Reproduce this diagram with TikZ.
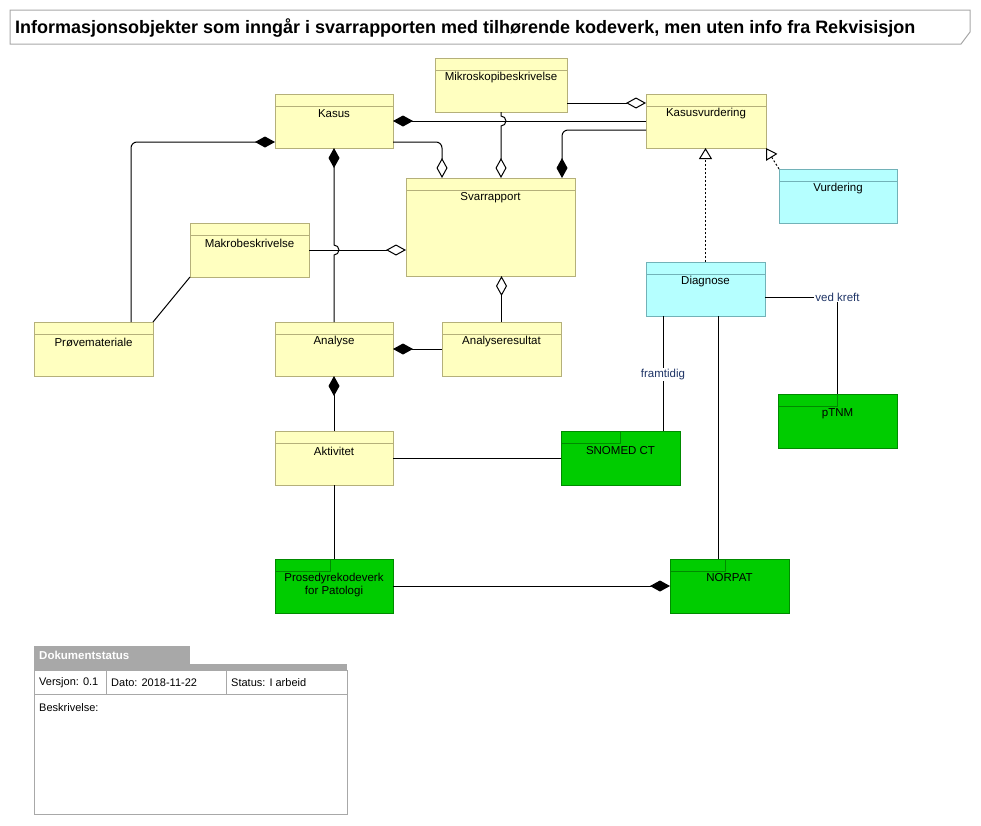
\documentclass[tikz,border=0pt]{standalone}
\usepackage{fontspec}
\setmainfont{Liberation Sans}
\usetikzlibrary{arrows.meta,calc,fit}
\definecolor{yfill}{HTML}{FFFFC0}
\definecolor{ydraw}{HTML}{B5B07A}
\definecolor{cfill}{HTML}{B5FFFF}
\definecolor{cdraw}{HTML}{72B2B8}
\definecolor{gfill}{HTML}{00CC00}
\definecolor{gdraw}{HTML}{008A00}
\definecolor{lblc}{HTML}{1E3466}
\definecolor{grc}{HTML}{A8A8A8}
\tikzset{
  boxbase/.style={line width=1pt, inner sep=0pt, outer sep=0pt},
  ycls/.style={boxbase, draw=ydraw, fill=yfill},
  ycls line/.style={line width=1pt, draw=ydraw},
  ccls/.style={boxbase, draw=cdraw, fill=cfill},
  ccls line/.style={line width=1pt, draw=cdraw},
  gpkg/.style={boxbase, draw=gdraw, fill=gfill},
  nm/.style={font=\fontsize{11.5}{13}\selectfont, align=center, text=black},
  conn/.style={line width=1pt, draw=black},
  fd/.tip={Diamond[length=20pt, width=11pt, fill=black]},
  od/.tip={Diamond[open, length=20pt, width=11pt, fill=white]},
  rl/.style={line width=1pt, dash pattern=on 2pt off 2pt},
  ot/.tip={Triangle[open, length=11pt, width=13pt, fill=white]},
  lbl/.style={fill=white, inner sep=1pt, text=lblc, font=\fontsize{11.5}{13}\selectfont},
  docs/.style={font=\fontsize{11}{13}\selectfont, anchor=west, inner sep=0pt},
}
\newcommand\clsbox[7]{%
  \node[#2, fit={(#3,#4)(#5,#6)}] (#1) {};
  \draw[#2 line] ($(#1.north west)+(0,12)$) -- ($(#1.north east)+(0,12)$);
  \node[nm, anchor=center] at ($(#1.north)+(0,20)$) {#7};
}
\newcommand\pkgbox[8]{%
  \node[gpkg, fit={(#2,#3)(#4,#5)}] (#1) {};
  \draw[line width=1pt, draw=gdraw] ($(#1.north west)+(#6,0)$) |- ($(#1.north west)+(0,12)$);
  \node[nm, anchor=north] at ($(#1.north)+(0,#7)$) {#8};
}
\begin{document}
\begin{tikzpicture}[x=1pt,y=-1pt]
\useasboundingbox (0,0) rectangle (981,825);
% title
\draw[line width=1pt, draw=grc, fill=white] (10,10) -- (970,10) -- (970,32) -- (961,44) -- (10,44) -- cycle;
\node[anchor=west, inner sep=0pt] (title) at (15,28) {\resizebox{900pt}{!}{\bfseries Informasjonsobjekter som inngår i svarrapporten med tilhørende kodeverk, men uten info fra Rekvisisjon}};

% classes
\clsbox{kasus}{ycls}{275}{94}{393}{148}{Kasus}
\clsbox{mikro}{ycls}{435}{58}{567}{112}{Mikroskopibeskrivelse}
\clsbox{kasusv}{ycls}{646}{94}{766}{148}{Kasusvurdering}
\clsbox{svar}{ycls}{406}{178}{575}{276}{Svarrapport}
\clsbox{makro}{ycls}{190}{223}{309}{277}{Makrobeskrivelse}
\clsbox{prove}{ycls}{34}{322}{153}{376}{Prøvemateriale}
\clsbox{analyse}{ycls}{275}{322}{393}{376}{Analyse}
\clsbox{ares}{ycls}{442}{322}{561}{376}{Analyseresultat}
\clsbox{akt}{ycls}{275}{431}{393}{485}{Aktivitet}
\clsbox{vurd}{ccls}{779}{169}{897}{223}{Vurdering}
\clsbox{diag}{ccls}{646}{262}{765}{316}{Diagnose}

% packages
\pkgbox{snomed}{561}{431}{680}{485}{59}{12}{SNOMED CT}
\pkgbox{ptnm}{778}{394}{897}{448}{59}{11}{pTNM}
\pkgbox{prosed}{275}{559}{393}{613}{55}{11}{Prosedyrekodeverk\\for Patologi}
\pkgbox{norpat}{670}{559}{789}{613}{55}{11}{NORPAT}

% helper coordinates
\coordinate (mk1) at ($(mikro.south east)+(0,-9)$);
\coordinate (hop1) at (mikro.south |- kasus.east);
\coordinate (hop2) at (kasus.south |- makro.east);
\coordinate (sn1) at ($(snomed.north east)+(-17,0)$);
\coordinate (np1) at ($(norpat.north west)+(48,0)$);

% connectors
\draw[conn, {fd}-] (kasus.east) -- (kasusv.west);
\draw[conn, -{od}] (mk1) -- (mk1 -| kasusv.west);
\draw[conn, -{od}, rounded corners=6pt] ($(kasus.south east)+(0,-6)$) -| ($(svar.north west)+(36,0)$);
\draw[conn, -{od}] (mikro.south) -- ($(hop1)+(0,-5)$) arc[start angle=90, end angle=-90, radius=5pt] -- (mikro.south |- svar.north);
\draw[conn, -{fd}, rounded corners=6pt] ($(kasusv.west)+(0,9)$) -| ($(svar.north east)+(-13,0)$);
\draw[conn, {fd}-, rounded corners=6pt] ($(kasus.south west)+(0,-6)$) -| ($(prove.north east)+(-22,0)$);
\draw[conn, {fd}-] (kasus.south) -- ($(hop2)+(0,-5)$) arc[start angle=90, end angle=-90, radius=5pt] -- (analyse.north);
\draw[conn, -{od}] (makro.east) -- (makro.east -| svar.west);
\draw[conn] (makro.south west) -- (prove.north east);
\draw[conn, {od}-] (ares.north |- svar.south) -- (ares.north);
\draw[conn, {fd}-] (analyse.east) -- (ares.west);
\draw[conn, {fd}-] (analyse.south) -- (akt.north);
\draw[conn] (akt.east) -- (snomed.west);
\draw[conn] (akt.south) -- (prosed.north);
\draw[conn, -{fd}] (prosed.east) -- (norpat.west);
\draw[conn] (sn1 |- diag.south) -- node[lbl, pos=0.51] {framtidig} (sn1);
\draw[conn] (np1 |- diag.south) -- (np1);
\draw[conn] ($(diag.east)+(0,8)$) -| node[lbl, pos=0.5] {ved kreft} (ptnm.north);
\draw[rl, -{ot}] (diag.north) -- (diag.north |- kasusv.south);
\draw[rl, -{ot}] (vurd.north west) -- (kasusv.south east);

% document status
\fill[grc] (34,646) rectangle (190,664);
\node[anchor=west, inner sep=0pt, text=white, font=\bfseries\fontsize{11.5}{13}\selectfont] (dstitle) at (39,655) {Dokumentstatus};
\fill[grc] (34,664) rectangle (347,670);
\draw[line width=1pt, draw=grc, fill=white] (34,670) rectangle (347,814);
\draw[line width=1pt, draw=grc] (34,694) -- (347,694);
\draw[line width=1pt, draw=grc] (106,670) -- (106,694);
\draw[line width=1pt, draw=grc] (226,670) -- (226,694);
\node[docs] (ver) at (39,683) {Versjon: 0.1};
\node[docs] (dato) at (111,683) {Dato: 2018-11-22};
\node[docs] (stat) at (231,683) {Status: I arbeid};
\node[docs] (besk) at (39,708) {Beskrivelse:};
\end{tikzpicture}
\end{document}
